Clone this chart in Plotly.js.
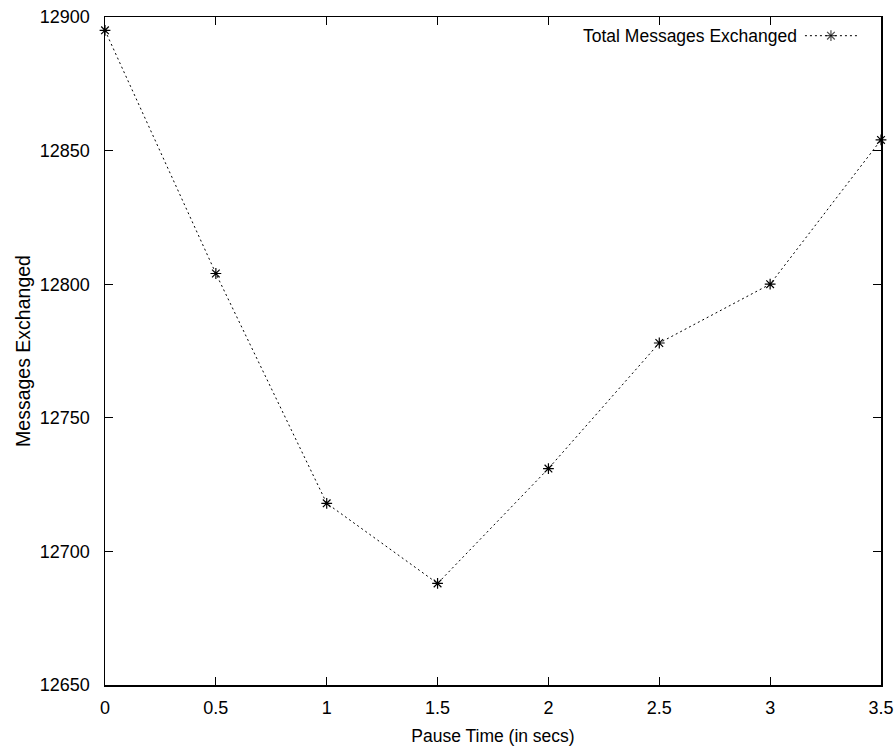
<!DOCTYPE html>
<html>
<head>
<meta charset="utf-8">
<script src="https://cdn.plot.ly/plotly-3.0.1.min.js"></script>
<style>html,body{margin:0;padding:0;background:#fff;}#chart{width:896px;height:751px;}</style>
</head>
<body>
<div id="chart"></div>
<script>
// Data
const pauseTime = [0, 0.5, 1, 1.5, 2, 2.5, 3, 3.5];
const messagesExchanged = [12895, 12804, 12718, 12688, 12731, 12778, 12800, 12854];
const seriesName = "Total Messages Exchanged";
const xTickVals = [0, 0.5, 1, 1.5, 2, 2.5, 3, 3.5];
const xTickText = ["0", "0.5", "1", "1.5", "2", "2.5", "3", "3.5"];
const yTickVals = [12650, 12700, 12750, 12800, 12850, 12900];
const yTickText = ["12650", "12700", "12750", "12800", "12850", "12900"];

const lineStyle = {color: "#000", width: 1, dash: "2px,3px"};
const markerStyle = {symbol: "asterisk-open", size: 9, color: "#000", line: {color: "#000", width: 1.2}};

const main = {
  x: pauseTime, y: messagesExchanged, type: "scatter", mode: "lines+markers",
  name: seriesName, line: lineStyle, marker: markerStyle, showlegend: false,
  cliponaxis: false, hoverinfo: "x+y"
};

// legend sample (drawn on an overlay axis spanning the plot area, 0..1)
const legX0 = 0.902, legX1 = 0.969, legY = 0.972;
const legendSample = {
  x: [legX0, (legX0 + legX1) / 2, legX1], y: [legY, legY, legY],
  xaxis: "x2", yaxis: "y2", type: "scatter", mode: "lines+markers",
  line: lineStyle,
  marker: Object.assign({}, markerStyle, {size: [0, 9, 0]}),
  showlegend: false, hoverinfo: "skip", cliponaxis: false
};

const tickFont = {family: "Liberation Sans Narrow, Arial Narrow, sans-serif", size: 18, color: "#000"};
const textFont = {family: "Liberation Sans, Arial, sans-serif", size: 17.5, color: "#000"};

const layout = {
  width: 896, height: 751,
  margin: {l: 105, r: 15, t: 17, b: 66},
  paper_bgcolor: "#fff", plot_bgcolor: "#fff",
  showlegend: false,
  xaxis: {
    range: [0, 3.5], tickvals: xTickVals, ticktext: xTickText,
    showgrid: false, zeroline: false,
    showline: true, linecolor: "#000", linewidth: 1.5, mirror: "ticks",
    ticks: "inside", ticklen: 8, tickwidth: 1, tickcolor: "#000",
    tickfont: tickFont, ticklabelstandoff: 6,
    title: {text: "Pause Time (in secs)", font: textFont, standoff: 12}
  },
  yaxis: {
    range: [12650, 12900], tickvals: yTickVals, ticktext: yTickText,
    showgrid: false, zeroline: false,
    showline: true, linecolor: "#000", linewidth: 1.5, mirror: "ticks",
    ticks: "inside", ticklen: 8, tickwidth: 1, tickcolor: "#000",
    tickfont: tickFont, ticklabelstandoff: 10,
    title: {text: "Messages Exchanged", font: {family: "Liberation Sans, Arial, sans-serif", size: 19.5, color: "#000"}, standoff: 4}
  },
  xaxis2: {overlaying: "x", range: [0, 1], visible: false, fixedrange: true},
  yaxis2: {overlaying: "y", range: [0, 1], visible: false, fixedrange: true},
  annotations: [{
    text: seriesName, xref: "paper", yref: "paper",
    x: 0.894, y: legY, xanchor: "right", yanchor: "middle",
    showarrow: false, font: textFont
  }]
};

Plotly.newPlot("chart", [main, legendSample], layout, {displayModeBar: false, staticPlot: true});
</script>
</body>
</html>
